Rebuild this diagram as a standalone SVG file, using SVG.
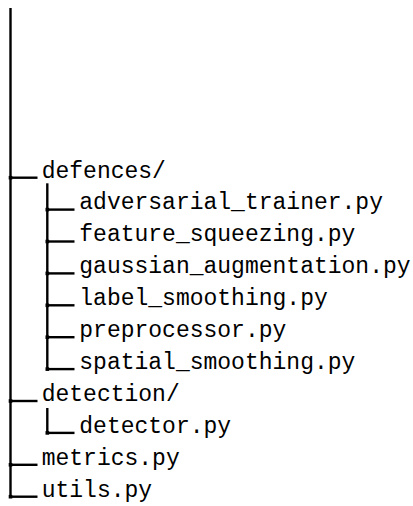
<svg xmlns="http://www.w3.org/2000/svg" width="413" height="506" viewBox="0 0 413 506">
<style>
.ln{stroke:#000;stroke-width:2.4;fill:none}
.dot{fill:#000}
.t{font-family:"Liberation Mono","Courier New",monospace;font-size:23px;fill:#000}
</style>
<rect width="413" height="506" fill="#fff"/>
<g id="connectors">
<path class="ln" d="M10.5 8V497.8"/>
<path class="ln" d="M10.5 177.7H37.5"/>
<path class="ln" d="M10.5 401H37.5"/>
<path class="ln" d="M10.5 464.8H37.5"/>
<path class="ln" d="M10.5 496.7H37.5"/>
<path class="ln" d="M47.3 183.3V370.3"/>
<path class="ln" d="M47.3 209.6H74.5"/>
<path class="ln" d="M47.3 241.5H74.5"/>
<path class="ln" d="M47.3 273.4H74.5"/>
<path class="ln" d="M47.3 305.3H74.5"/>
<path class="ln" d="M47.3 337.2H74.5"/>
<path class="ln" d="M47.3 369.1H74.5"/>
<path class="ln" d="M47.3 408V434"/>
<path class="ln" d="M47.3 432.9H74.5"/>
<rect class="dot" x="8.7" y="175.9" width="3.6" height="3.6"/>
<rect class="dot" x="8.7" y="399.2" width="3.6" height="3.6"/>
<rect class="dot" x="8.7" y="463" width="3.6" height="3.6"/>
<rect class="dot" x="8.7" y="494.9" width="3.6" height="3.6"/>
<rect class="dot" x="45.5" y="207.8" width="3.6" height="3.6"/>
<rect class="dot" x="45.5" y="239.7" width="3.6" height="3.6"/>
<rect class="dot" x="45.5" y="271.6" width="3.6" height="3.6"/>
<rect class="dot" x="45.5" y="303.5" width="3.6" height="3.6"/>
<rect class="dot" x="45.5" y="335.4" width="3.6" height="3.6"/>
<rect class="dot" x="45.5" y="367.3" width="3.6" height="3.6"/>
<rect class="dot" x="45.5" y="431.1" width="3.6" height="3.6"/>
</g>
<g id="defences"><text class="t" x="41.7" y="177.5">defences/</text></g>
<g id="adversarial_trainer"><text class="t" x="79.3" y="209.4">adversarial_trainer.py</text></g>
<g id="feature_squeezing"><text class="t" x="79.3" y="241.3">feature_squeezing.py</text></g>
<g id="gaussian_augmentation"><text class="t" x="79.3" y="273.2">gaussian_augmentation.py</text></g>
<g id="label_smoothing"><text class="t" x="79.3" y="305.1">label_smoothing.py</text></g>
<g id="preprocessor"><text class="t" x="79.3" y="337">preprocessor.py</text></g>
<g id="spatial_smoothing"><text class="t" x="79.3" y="368.9">spatial_smoothing.py</text></g>
<g id="detection"><text class="t" x="41.7" y="400.8">detection/</text></g>
<g id="detector"><text class="t" x="79.3" y="432.7">detector.py</text></g>
<g id="metrics"><text class="t" x="41.7" y="464.6">metrics.py</text></g>
<g id="utils"><text class="t" x="41.7" y="496.5">utils.py</text></g>
</svg>
